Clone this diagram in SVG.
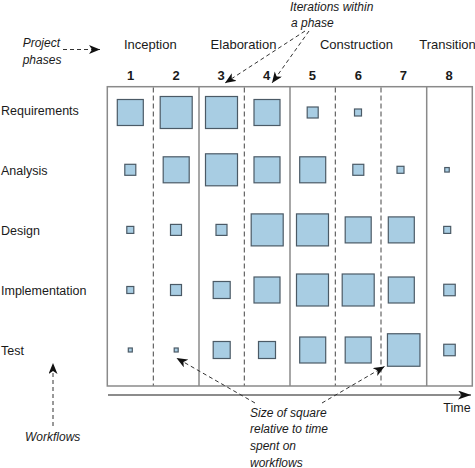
<svg xmlns="http://www.w3.org/2000/svg" width="475" height="468" viewBox="0 0 475 468">
<style>
  text { font-family: "Liberation Sans", Arial, sans-serif; fill: #1a1a1a; }
  .lab { font-size: 12.5px; }
  .ph { font-size: 13px; text-anchor: middle; }
  .num { font-size: 13px; font-weight: bold; text-anchor: middle; }
  .it { font-size: 12px; font-style: italic; }
  .sq { fill: #a8cde3; stroke: #4b5a66; stroke-width: 1.2; }
  .frame { fill: none; stroke: #8a8a8a; stroke-width: 1.5; }
  .solid { stroke: #8a8a8a; stroke-width: 1.5; }
  .dash { stroke: #444; stroke-width: 1; stroke-dasharray: 5 3; }
  .ann { fill: none; stroke: #333; stroke-width: 1; stroke-dasharray: 4 3; marker-end: url(#ah); }
  .axis { fill: none; stroke: #666; stroke-width: 1.5; marker-end: url(#ah2); }
</style>
<defs>
  <marker id="ah" markerUnits="userSpaceOnUse" markerWidth="12" markerHeight="10" refX="11" refY="4.5" orient="auto">
    <path d="M0,0 L11,4.5 L0,9 L3,4.5 z" fill="#111" stroke="none"/>
  </marker>
  <marker id="ah2" markerUnits="userSpaceOnUse" markerWidth="14" markerHeight="10" refX="13" refY="4.5" orient="auto">
    <path d="M0,0 L13,4.5 L0,9 L3.5,4.5 z" fill="#111" stroke="none"/>
  </marker>
</defs>

<g id="frame">
  <rect class="frame" x="107.3" y="86.7" width="365" height="299.3"/>
  <line class="solid" x1="199" y1="86.7" x2="199" y2="386"/>
  <line class="solid" x1="290" y1="86.7" x2="290" y2="386"/>
  <line class="solid" x1="426.7" y1="86.7" x2="426.7" y2="386"/>
  <line class="dash" x1="153.3" y1="87.5" x2="153.3" y2="385.5"/>
  <line class="dash" x1="244.3" y1="87.5" x2="244.3" y2="385.5"/>
  <line class="dash" x1="335.3" y1="87.5" x2="335.3" y2="385.5"/>
  <line class="dash" x1="381" y1="87.5" x2="381" y2="385.5"/>
</g>

<g id="phases">
  <text class="ph" x="150.3" y="49.3">Inception</text>
  <text class="ph" x="243.5" y="49.3">Elaboration</text>
  <text class="ph" x="356.4" y="49.3">Construction</text>
  <text class="ph" x="447.5" y="49.3">Transition</text>
</g>

<g id="iterations">
  <text class="num" x="130.7" y="80">1</text>
  <text class="num" x="176" y="80">2</text>
  <text class="num" x="221" y="80">3</text>
  <text class="num" x="266.7" y="80">4</text>
  <text class="num" x="312.3" y="80">5</text>
  <text class="num" x="358.3" y="80">6</text>
  <text class="num" x="403.3" y="80">7</text>
  <text class="num" x="449" y="80">8</text>
</g>

<g id="workflow-labels">
  <text class="lab" x="1" y="115">Requirements</text>
  <text class="lab" x="1" y="175">Analysis</text>
  <text class="lab" x="1" y="235">Design</text>
  <text class="lab" x="1" y="295">Implementation</text>
  <text class="lab" x="1" y="355">Test</text>
</g>

<g id="row-requirements">
  <rect class="sq" x="117.3" y="99.5" width="26" height="26"/>
  <rect class="sq" x="160.2" y="96.5" width="32" height="32"/>
  <rect class="sq" x="205.5" y="96.5" width="32" height="32"/>
  <rect class="sq" x="254" y="99.5" width="26" height="26"/>
  <rect class="sq" x="307.2" y="107" width="11" height="11"/>
  <rect class="sq" x="354.5" y="109" width="7" height="7"/>
</g>

<g id="row-analysis">
  <rect class="sq" x="124.8" y="164.3" width="11" height="11"/>
  <rect class="sq" x="163.2" y="156.8" width="26" height="26"/>
  <rect class="sq" x="205.5" y="153.8" width="32" height="32"/>
  <rect class="sq" x="254" y="156.8" width="26" height="26"/>
  <rect class="sq" x="299.7" y="156.8" width="26" height="26"/>
  <rect class="sq" x="352.8" y="164.3" width="11" height="11"/>
  <rect class="sq" x="397" y="166.3" width="7" height="7"/>
  <rect class="sq" x="444.75" y="167.55" width="4.5" height="4.5"/>
</g>

<g id="row-design">
  <rect class="sq" x="126.8" y="226.4" width="7" height="7"/>
  <rect class="sq" x="170.5" y="224.4" width="11" height="11"/>
  <rect class="sq" x="216" y="224.4" width="11" height="11"/>
  <rect class="sq" x="251.2" y="213.9" width="32" height="32"/>
  <rect class="sq" x="296.5" y="213.9" width="32" height="32"/>
  <rect class="sq" x="345.2" y="216.9" width="26" height="26"/>
  <rect class="sq" x="388.3" y="216.9" width="26" height="26"/>
  <rect class="sq" x="443.7" y="226.4" width="7" height="7"/>
</g>

<g id="row-implementation">
  <rect class="sq" x="126.8" y="286.5" width="7" height="7"/>
  <rect class="sq" x="170.5" y="284.5" width="11" height="11"/>
  <rect class="sq" x="213.2" y="281.5" width="17" height="17"/>
  <rect class="sq" x="254" y="277" width="26" height="26"/>
  <rect class="sq" x="296.5" y="274" width="32" height="32"/>
  <rect class="sq" x="342.2" y="274" width="32" height="32"/>
  <rect class="sq" x="388.3" y="277" width="26" height="26"/>
  <rect class="sq" x="443.75" y="284.25" width="11.5" height="11.5"/>
</g>

<g id="row-test">
  <rect class="sq" x="128.3" y="348" width="4" height="4"/>
  <rect class="sq" x="174.2" y="348" width="4" height="4"/>
  <rect class="sq" x="213.2" y="341.5" width="17" height="17"/>
  <rect class="sq" x="258.5" y="341.5" width="17" height="17"/>
  <rect class="sq" x="299.7" y="337" width="26" height="26"/>
  <rect class="sq" x="345.2" y="337" width="26" height="26"/>
  <rect class="sq" x="387.45" y="333.75" width="32.5" height="32.5"/>
  <rect class="sq" x="443.75" y="344.25" width="11.5" height="11.5"/>
</g>

<g id="annotation-project-phases">
  <text class="it" x="22.7" y="46.7">Project</text>
  <text class="it" x="22.7" y="64">phases</text>
</g>
<g id="annotation-iterations">
  <text class="it" x="290" y="11">Iterations within</text>
  <text class="it" x="291" y="26.5">a phase</text>
</g>
<g id="annotation-workflows">
  <text class="it" x="25" y="440.7">Workflows</text>
</g>
<g id="annotation-size">
  <text class="it" x="250" y="416.7">Size of square</text>
  <text class="it" x="250" y="433.3">relative to time</text>
  <text class="it" x="250" y="450">spent on</text>
  <text class="it" x="250" y="466.5">workflows</text>
</g>
<g id="time-axis">
  <line class="axis" x1="108" y1="395" x2="471" y2="395"/>
  <text class="lab" x="443.3" y="411.7">Time</text>
</g>

<g id="connectors">
  <line class="ann" x1="63" y1="49.5" x2="100" y2="49.5"/>
  <line class="ann" x1="305" y1="31" x2="225" y2="83"/>
  <line class="ann" x1="309" y1="31" x2="272" y2="83"/>
  <line class="ann" x1="53" y1="426" x2="53" y2="363"/>
  <line class="ann" x1="255" y1="403" x2="176.5" y2="358"/>
  <line class="ann" x1="322" y1="403" x2="384.5" y2="366.5"/>
</g>
</svg>
